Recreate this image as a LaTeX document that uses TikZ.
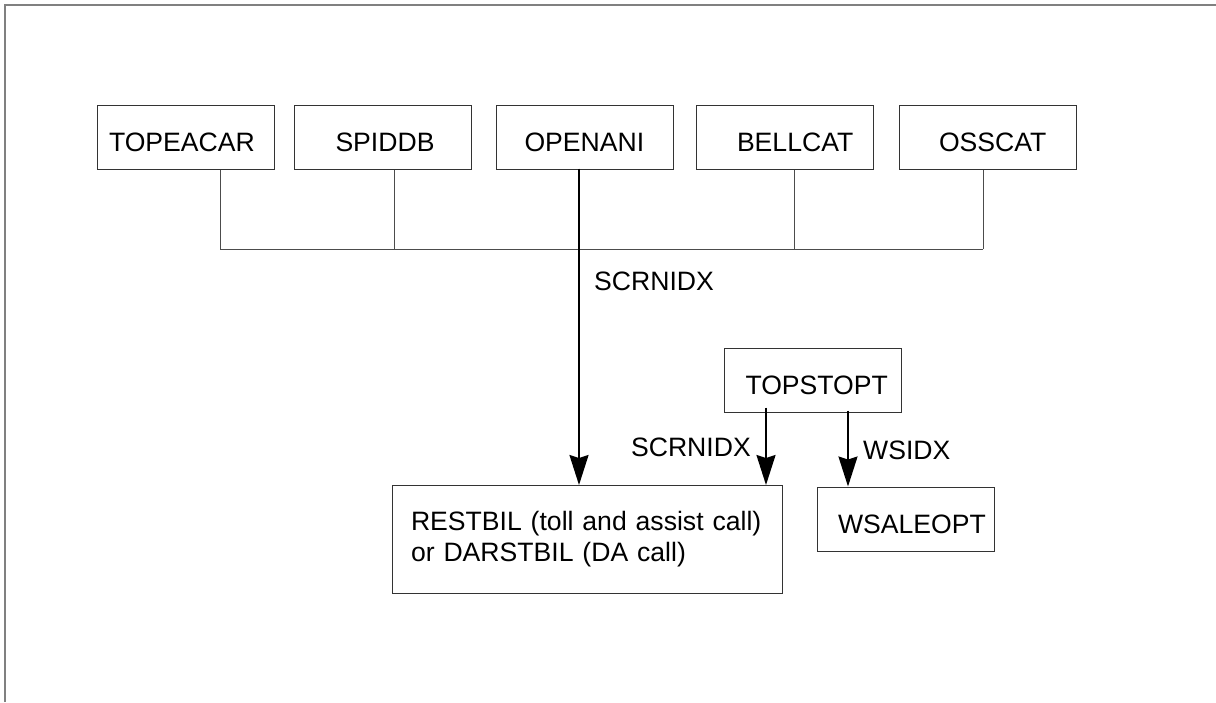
\documentclass[tikz,border=0pt]{standalone}
\usepackage{fontspec}
\setmainfont{Liberation Sans}
\usetikzlibrary{arrows.meta}
\begin{document}
\begin{tikzpicture}[x=1pt,y=-1pt,
  font=\fontsize{26.6}{31}\selectfont,
  box/.style={draw=black!80, line width=1pt, inner xsep=0pt, inner ysep=0pt,
    minimum height=64pt, text width=177pt, align=left, text height=28pt, text depth=0pt},
  thin/.style={draw=black!70, line width=1pt},
  arr/.style={draw=black, line width=2pt, -{Stealth[length=30pt,width=19pt,inset=3pt]}},
  lbl/.style={inner sep=0pt}]
\useasboundingbox (0,0) rectangle (1216,702);
% frame (top and left edges)
\draw[gray, line width=1.5pt] (5,702) -- (5,5) -- (1216,5);

% top row
\node[box] (topeacar) at (185.5,137) {\hspace*{12pt}TOPEACAR};
\node[box] (spiddb)   at (383,137)   {\hspace*{41pt}SPIDDB};
\node[box] (openani)  at (585,137)   {\hspace*{28pt}OPENANI};
\node[box] (bellcat)  at (784.5,137) {\hspace*{41pt}BELLCAT};
\node[box] (osscat)   at (987.5,137) {\hspace*{40pt}OSSCAT};

% other boxes
\node[box] (topstopt) at (813,380)   {\hspace*{21pt}TOPSTOPT};
\node[box] (wsaleopt) at (905.5,519) {\hspace*{21pt}WSALEOPT};
\node[draw=black!80, line width=1pt, inner xsep=19pt, inner ysep=0pt,
  minimum height=108pt, text width=352pt, align=left] (restbil) at (587,539.5)
  {\mbox{RESTBIL (toll and assist call)}\\\mbox{or DARSTBIL (DA call)}};

% bus
\coordinate (d1) at (220,249);
\coordinate (d2) at (394,249);
\coordinate (d4) at (794,249);
\coordinate (d5) at (983,249);
\draw[thin] (d1 |- topeacar.south) -- (d1);
\draw[thin] (d2 |- spiddb.south) -- (d2);
\draw[thin] (d4 |- bellcat.south) -- (d4);
\draw[thin] (d5 |- osscat.south) -- (d5);
\draw[thin] (d1) -- (d5);

% arrows
\coordinate (a1) at (579,0);
\coordinate (a2) at (766,0);
\coordinate (a3) at (848,0);
\draw[arr] ([yshift=1pt]a1 |- openani.south) -- (a1 |- restbil.north);
\draw[arr] ([yshift=5pt]a2 |- topstopt.south) -- (a2 |- restbil.north);
\draw[arr] ([yshift=2pt]a3 |- topstopt.south) -- (a3 |- wsaleopt.north);

% labels
\node[lbl, anchor=west] (l1) at (594,281) {SCRNIDX};
\node[lbl, anchor=east] (l2) at (751,447) {SCRNIDX};
\node[lbl, anchor=west] (l3) at (863,450) {WSIDX};
\end{tikzpicture}
\end{document}
